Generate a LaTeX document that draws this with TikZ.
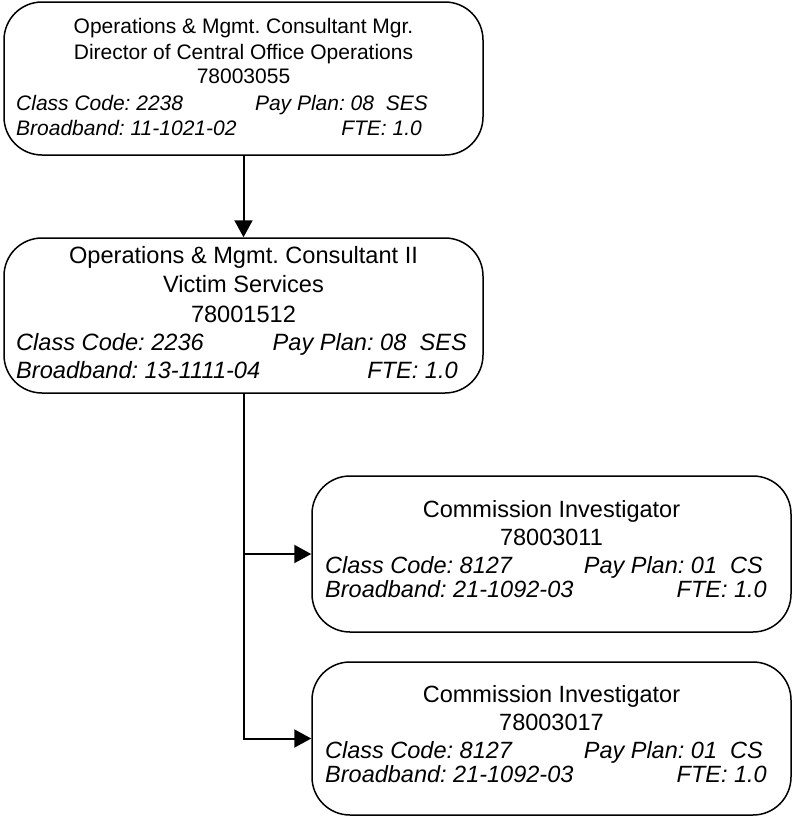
\documentclass[tikz,border=0pt]{standalone}
\usepackage{fontspec}
\setmainfont{Liberation Sans}
\usetikzlibrary{arrows.meta}
\frenchspacing
\tikzset{
  box/.style={draw, line width=1.5pt, rounded corners=38pt, minimum width=479pt, inner sep=0pt},
  conn/.style={line width=2pt, -{Triangle[length=17pt,width=18pt]}},
  fa/.style={font=\fontsize{21}{25}\selectfont, inner sep=0pt},
  fb/.style={font=\fontsize{23.6}{28}\selectfont, inner sep=0pt},
  fc/.style={font=\fontsize{23.5}{28}\selectfont, inner sep=0pt},
  ia/.style={font=\fontsize{21}{25}\selectfont\itshape, inner sep=0pt},
  ib/.style={font=\fontsize{23.6}{28}\selectfont\itshape, inner sep=0pt},
  ic/.style={font=\fontsize{23.5}{28}\selectfont\itshape, inner sep=0pt}
}
\begin{document}
\begin{tikzpicture}[x=1pt,y=-1pt]
\useasboundingbox (0,0) rectangle (794,817);
% boxes
\node[box, minimum height=153pt] (b1) at (243.5,78.5) {};
\node[box, minimum height=155pt] (b2) at (243.5,315.5) {};
\node[box, minimum height=156pt] (b3) at (551.5,554) {};
\node[box, minimum height=153pt] (b4) at (551.5,738.5) {};
% box 1 text
\node[fa, anchor=base] (t11) at (243.5,33) {Operations \& Mgmt. Consultant Mgr.};
\node[fa, anchor=base] (t12) at (243.5,59) {Director of Central Office Operations};
\node[fa, anchor=base] (t13) at (243.5,83) {78003055};
\node[ia, anchor=base west] (t14) at (16,110) {Class Code: 2238};
\node[ia, anchor=base east] (t15) at (428,110) {Pay Plan: 08~~SES};
\node[ia, anchor=base west] (t16) at (16,135) {Broadband: 11-1021-02};
\node[ia, anchor=base east] (t17) at (422,135) {FTE: 1.0};
% box 2 text
\node[fb, anchor=base] (t21) at (243.5,263) {Operations \& Mgmt. Consultant II};
\node[fb, anchor=base] (t22) at (243.5,292) {Victim Services};
\node[fb, anchor=base] (t23) at (243.5,322) {78001512};
\node[ib, anchor=base west] (t24) at (16,350) {Class Code: 2236};
\node[ib, anchor=base east] (t25) at (467,350) {Pay Plan: 08~~SES};
\node[ib, anchor=base west] (t26) at (16,378) {Broadband: 13-1111-04};
\node[ib, anchor=base east] (t27) at (458,378) {FTE: 1.0};
% box 3 text
\node[fc, anchor=base] (t31) at (551.5,517) {Commission Investigator};
\node[fc, anchor=base] (t32) at (551.5,545) {78003011};
\node[ic, anchor=base west] (t34) at (325,573) {Class Code: 8127};
\node[ic, anchor=base east] (t35) at (763,573) {Pay Plan: 01~~CS};
\node[ic, anchor=base west] (t36) at (325,597) {Broadband: 21-1092-03};
\node[ic, anchor=base east] (t37) at (767,597) {FTE: 1.0};
% box 4 text
\node[fc, anchor=base] (t41) at (551.5,702) {Commission Investigator};
\node[fc, anchor=base] (t42) at (551.5,730) {78003017};
\node[ic, anchor=base west] (t44) at (325,758) {Class Code: 8127};
\node[ic, anchor=base east] (t45) at (763,758) {Pay Plan: 01~~CS};
\node[ic, anchor=base west] (t46) at (325,782) {Broadband: 21-1092-03};
\node[ic, anchor=base east] (t47) at (767,782) {FTE: 1.0};
% connectors
\draw[conn] (b1.south) -- (b2.north);
\draw[conn] (b2.south) |- (b3.west);
\draw[conn] (b2.south) |- (b4.west);
\end{tikzpicture}
\end{document}
